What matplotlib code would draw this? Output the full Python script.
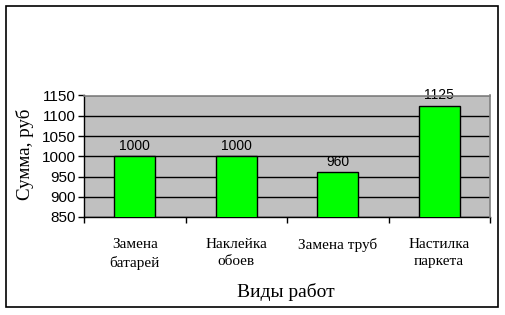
import numpy as np
import matplotlib.pyplot as plt
from matplotlib.patches import Rectangle

categories = ['Замена\nбатарей', 'Наклейка\nобоев', 'Замена труб', 'Настилка\nпаркета']
values = [1000, 1000, 960, 1125]
yticks = [850, 900, 950, 1000, 1050, 1100, 1150]

W, H = 506, 315
fig = plt.figure(figsize=(W / 100, H / 100), dpi=100)
fig.patches.append(Rectangle((6 / W, 1 - 307 / H), 492 / W, 301 / H, transform=fig.transFigure,
                             fill=False, edgecolor='black', linewidth=1.2))

ax = fig.add_axes([84 / W, 1 - 217 / H, (490 - 84) / W, (217 - 95.5) / H])
ax.set_facecolor('#C0C0C0')

x = np.arange(len(categories))
ax.bar(x, values, width=0.4, bottom=0, color='#00FF00', edgecolor='black', linewidth=1, zorder=3)
for xi, v in zip(x, values):
    ax.text(xi, v + 8, str(v), ha='center', va='bottom', fontsize=10,
            family='Liberation Sans', zorder=4)

ax.set_xlim(-0.5, len(categories) - 0.5)
ax.set_ylim(850, 1150)
ax.set_yticks(yticks)
ax.set_yticklabels([str(t) for t in yticks], family='Liberation Sans', fontsize=11)
ax.yaxis.grid(True, color='black', linewidth=1)
ax.set_axisbelow(True)

ax.set_xticks(np.arange(len(categories) + 1) - 0.5)
ax.set_xticklabels([])
ax.tick_params(axis='x', direction='out', length=4, width=1)
ax.tick_params(axis='y', direction='out', length=4, width=1, pad=2)
for xi, c in zip(x, categories):
    ax.text(xi, -0.17, c, transform=ax.get_xaxis_transform(), ha='center', va='top',
            family='Liberation Serif', fontsize=11, linespacing=1.45)

for s in ['top', 'right']:
    ax.spines[s].set_color('#808080')
    ax.spines[s].set_linewidth(1.2)
    ax.spines[s].set_zorder(5)
ax.spines['left'].set_linewidth(1)
ax.spines['bottom'].set_linewidth(1)

fig.text(286 / W, 1 - 292 / H, 'Виды работ', ha='center', va='center',
         family='Liberation Serif', fontsize=14)
fig.text(25 / W, 1 - 154 / H, 'Сумма, руб', ha='center', va='center', rotation=90,
         family='Liberation Serif', fontsize=13.7)

fig.savefig('out.png', dpi=100)
